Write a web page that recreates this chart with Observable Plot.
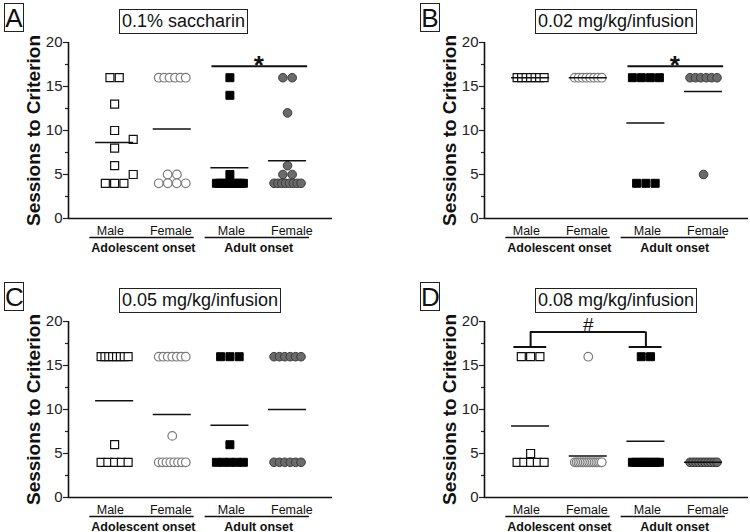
<!DOCTYPE html>
<html><head><meta charset="utf-8">
<script src="https://cdn.jsdelivr.net/npm/d3@7"></script>
<script src="https://cdn.jsdelivr.net/npm/@observablehq/plot@0.6"></script>
<style>
body{margin:0;background:#fff;font-family:Arial,"Liberation Sans",Helvetica,sans-serif;}
#chart{position:relative;width:750px;height:532px;overflow:hidden;background:#fff;}
.panel{position:absolute;}
.letter{position:absolute;border:1.5px solid #222;width:18px;height:27px;font-size:26px;line-height:28px;text-align:center;color:#111;background:#fff;}
.title{position:absolute;border:1.5px solid #222;font-size:18px;line-height:23px;padding:0 2px;white-space:nowrap;color:#111;}
</style></head><body><div id="chart"></div>
<script>
const categories = ["Male", "Female", "Male", "Female"];
const groups = ["Adolescent onset", "Adult onset"];
const panelLetters = ["A", "B", "C", "D"];
const panelTitles = ["0.1% saccharin", "0.02 mg/kg/infusion", "0.05 mg/kg/infusion", "0.08 mg/kg/infusion"];
const yTicks = [0, 5, 10, 15, 20];
const yMinorTicks = [2.5, 7.5, 12.5, 17.5];

// Sessions to criterion per rat: [adolescent male, adolescent female, adult male, adult female]
const panelA = [
  [16, 16, 13, 10, 9, 8, 6, 5, 4, 4, 4],
  [16, 16, 16, 16, 16, 16, 5, 5, 4, 4, 4, 4],
  [16, 14, 5, 4, 4, 4, 4, 4, 4, 4, 4, 4, 4],
  [16, 16, 12, 6, 5, 5, 4, 4, 4, 4, 4, 4, 4, 4]
];
const panelB = [
  [16, 16, 16, 16, 16, 16, 16],
  [16, 16, 16, 16, 16, 16, 16, 16],
  [16, 16, 16, 16, 4, 4, 4],
  [16, 16, 16, 16, 16, 16, 5]
];
const panelC = [
  [16, 16, 16, 16, 16, 16, 16, 16, 6, 4, 4, 4, 4, 4],
  [16, 16, 16, 16, 16, 16, 16, 7, 4, 4, 4, 4, 4, 4, 4, 4],
  [16, 16, 16, 6, 4, 4, 4, 4, 4],
  [16, 16, 16, 16, 16, 16, 4, 4, 4, 4, 4, 4]
];
const panelD = [
  [16, 16, 16, 5, 4, 4, 4, 4, 4],
  [16, 4, 4, 4, 4, 4, 4, 4, 4, 4, 4, 4, 4, 4, 4, 4, 4],
  [16, 16, 4, 4, 4, 4, 4, 4, 4, 4],
  [4, 4, 4, 4, 4, 4, 4, 4, 4, 4]
];
// significance marks: comparison between categories, height in sessions
const sigA = [{from: 2, to: 3, y: 17.3, label: "*"}];
const sigB = [{from: 2, to: 3, y: 17.3, label: "*"}];
const bracketD = [{from: 0, to: 2, y: 18.8, cap: 17.1, label: "#"}];

const panelsData = [panelA, panelB, panelC, panelD];
const sigs = [sigA, sigB, [], []];
const brackets = [[], [], [], bracketD];

const W = 334, H = 266, ML = 68, MR = 2, MT = 42, MB = 48;
const xDomain = [-0.8, 3.78];
const pxPerX = (W - ML - MR) / (xDomain[1] - xDomain[0]);
const pxPerY = (H - MT - MB) / 20;
const spacingPx = 9.3, maxExtPx = 27, markPx = 9;

function layout(values, ci) {
  const pts = [];
  const rows = d3.groups(values, v => v).sort((a, b) => b[0] - a[0]);
  const s = spacingPx / pxPerX;
  for (const [v, arr] of rows) {
    const n = arr.length;
    if (n === 1) {
      let off = 0;
      for (const c of [0, s, -s, 2 * s, -2 * s]) {
        const hit = pts.some(p => Math.abs(p.v - v) * pxPerY < markPx * 1.05 && Math.abs(p.x - (ci + c)) * pxPerX < markPx * 1.1);
        if (!hit) { off = c; break; }
      }
      pts.push({x: ci + off, v});
    } else {
      const sp = Math.min(s, (maxExtPx / pxPerX) / (n - 1));
      arr.forEach((_, j) => pts.push({x: ci + (j - (n - 1) / 2) * sp, v}));
    }
  }
  return pts;
}

function makePanel(data, sig, bracket) {
  const pts = data.map((vals, ci) => layout(vals, ci));
  const means = data.map((vals, ci) => ({c: ci, m: d3.mean(vals)}));
  const sigLines = sig.map(d => ({xa: d.from - 0.32, xb: d.to + 0.34, y: d.y}));
  const marks = [
    Plot.axisY({ticks: yMinorTicks, tickSize: 3, tickFormat: () => "", label: null, stroke: "#222", strokeWidth: 1.2}),
    Plot.axisY({ticks: yTicks, tickSize: 5, tickPadding: 1, label: null, fontSize: 15, color: "#222", strokeWidth: 1.2}),
    Plot.ruleX([xDomain[0]], {stroke: "#111", strokeWidth: 1.6}),
    Plot.ruleY([0], {stroke: "#111", strokeWidth: 1.6}),
    Plot.text(["Sessions to Criterion"], {text: d => d, frameAnchor: "left", textAnchor: "middle", lineAnchor: "middle", rotate: -90, dx: -35, fontSize: 19, fontWeight: "bold", fill: "#111"}),
    Plot.text(categories, {text: d => d, x: (d, i) => i + (i - 1.5) * 0.05, frameAnchor: "bottom", lineAnchor: "middle", dy: 12, fontSize: 12.5, fill: "#111"}),
    Plot.ruleY(groups, {x1: (d, i) => i * 2 - 0.43, x2: (d, i) => i * 2 + 1.38, y: () => 0, dy: 19, stroke: "#111", strokeWidth: 1.5}),
    Plot.text(groups, {text: d => d, x: (d, i) => i * 2 + 0.5, frameAnchor: "bottom", lineAnchor: "middle", dy: 29, fontSize: 12.5, fontWeight: "bold", fill: "#111"}),
    Plot.dot(pts[0], {x: "x", y: "v", symbol: "square", r: 4.5, fill: "white", stroke: "#111", strokeWidth: 1.2}),
    Plot.dot(pts[1], {x: "x", y: "v", symbol: "circle", r: 4.3, fill: "white", stroke: "#7a7a7a", strokeWidth: 1.2}),
    Plot.dot(pts[2], {x: "x", y: "v", symbol: "square", r: 4.5, fill: "#000", stroke: "#000", strokeWidth: 1}),
    Plot.dot(pts[3], {x: "x", y: "v", symbol: "circle", r: 4.3, fill: "#6b6b6b", stroke: "#3a3a3a", strokeWidth: 1}),
    Plot.ruleY(means, {x1: d => d.c - 0.33, x2: d => d.c + 0.33, y: "m", stroke: "#111", strokeWidth: 1.5}),
    Plot.link(sigLines, {x1: "xa", x2: "xb", y1: "y", y2: "y", stroke: "#111", strokeWidth: 2}),
    Plot.text(sig, {x: d => (d.from + d.to) / 2, y: "y", text: "label", fontSize: 26, fontWeight: "bold", lineAnchor: "bottom", dy: 8, fill: "#111"}),
    Plot.ruleY(bracket, {x1: "from", x2: "to", y: "y", stroke: "#111", strokeWidth: 2}),
    Plot.ruleX(bracket.flatMap(b => [{x: b.from, y1: b.cap, y2: b.y}, {x: b.to, y1: b.cap, y2: b.y}]), {x: "x", y1: "y1", y2: "y2", stroke: "#111", strokeWidth: 2}),
    Plot.ruleY(bracket.flatMap(b => [{c: b.from, y: b.cap}, {c: b.to, y: b.cap}]), {x1: d => d.c - 0.29, x2: d => d.c + 0.28, y: "y", stroke: "#111", strokeWidth: 2}),
    Plot.text(bracket, {x: d => (d.from + d.to) / 2, y: "y", text: "label", fontSize: 19, lineAnchor: "bottom", dy: -1, fill: "#111"})
  ];
  return Plot.plot({
    width: W, height: H,
    marginLeft: ML, marginRight: MR, marginTop: MT, marginBottom: MB,
    x: {domain: xDomain, axis: null},
    y: {domain: [0, 20], axis: null},
    style: {fontFamily: "Arial, 'Liberation Sans', Helvetica, sans-serif", fontSize: "14px", color: "#222", overflow: "visible", background: "transparent"},
    marks
  });
}

const chart = document.getElementById("chart");
const positions = [[0, 0], [416, 0], [0, 279], [416, 279]];
panelsData.forEach((data, k) => {
  const [left, top] = positions[k];
  const div = document.createElement("div");
  div.className = "panel";
  div.style.left = left + "px";
  div.style.top = top + "px";
  div.appendChild(makePanel(data, sigs[k], brackets[k]));
  chart.appendChild(div);
  const letter = document.createElement("div");
  letter.className = "letter";
  letter.textContent = panelLetters[k];
  letter.style.left = (left + 4) + "px";
  letter.style.top = (top + 3) + "px";
  chart.appendChild(letter);
  const title = document.createElement("div");
  title.className = "title";
  title.textContent = panelTitles[k];
  title.style.left = (left + 119) + "px";
  title.style.top = (top + 9) + "px";
  chart.appendChild(title);
});
</script></body></html>
